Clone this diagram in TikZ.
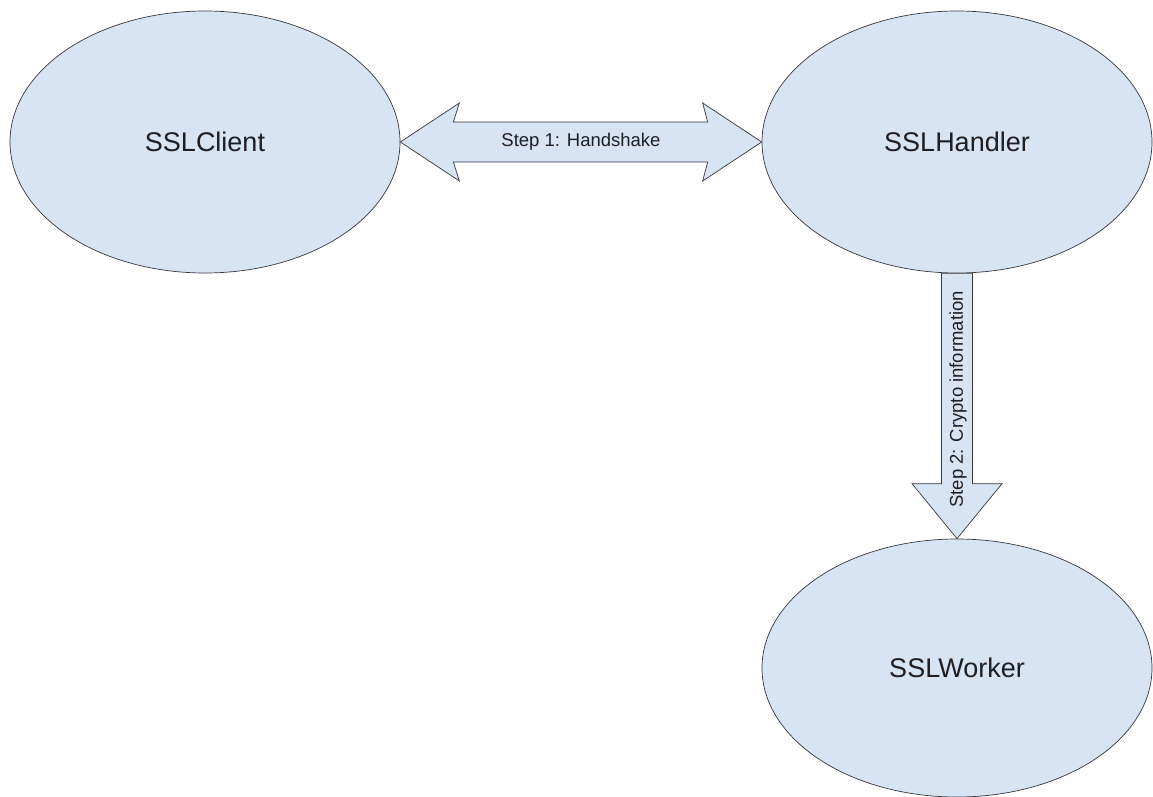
\documentclass[tikz,border=0pt]{standalone}
\usepackage{fontspec}
\setmainfont{Liberation Sans}
\usetikzlibrary{shapes.geometric,calc}

\definecolor{bubblefill}{RGB}{215,228,244}
\definecolor{edgegray}{RGB}{55,55,60}
\definecolor{textgray}{RGB}{30,30,35}

\tikzset{
  party/.style={ellipse, draw=edgegray, line width=0.7pt, fill=bubblefill,
    minimum width=390pt, minimum height=262pt, inner sep=0pt,
    font=\fontsize{27}{30}\selectfont, text=textgray},
  blockarrow/.style={draw=edgegray, line width=0.7pt, fill=bubblefill, line join=miter},
  arrowlabel/.style={font=\fontsize{18.5}{21}\selectfont, text=textgray, inner sep=0pt}
}

\begin{document}
\begin{tikzpicture}[x=1pt, y=-1pt]
  \useasboundingbox (0,0) rectangle (1153,797);

  % the three parties
  \node[party] (client)  at (205,142) {SSLClient};
  \node[party] (handler) at (957,142) {SSLHandler};
  \node[party, minimum height=258pt] (worker) at (957,668) {SSLWorker};

  % step 1: two-headed block arrow between client and handler
  \coordinate (L) at (client.east);
  \coordinate (R) at (handler.west);
  \draw[blockarrow] (L)
      -- ($(L)+(59,-39)$) -- ($(L)+(53,-20)$)
      -- ($(R)+(-54,-20)$) -- ($(R)+(-59,-39)$)
      -- (R)
      -- ($(R)+(-59,39)$) -- ($(R)+(-54,20)$)
      -- ($(L)+(53,20)$) -- ($(L)+(59,39)$)
      -- cycle;
  \node[arrowlabel] (hslabel) at ($(L)!0.5!(R)$) {Step 1: Handshake};

  % step 2: downward block arrow from handler to worker
  \coordinate (T) at (handler.south);
  \coordinate (B) at (worker.north);
  \draw[blockarrow] ($(T)+(-15.5,0)$)
      -- ($(B)+(-15.5,-55)$) -- ($(B)+(-45,-55)$)
      -- (B)
      -- ($(B)+(45,-55)$) -- ($(B)+(15.5,-55)$)
      -- ($(T)+(15.5,0)$) -- cycle;
  \node[arrowlabel, rotate=90] (cilabel) at ($(T)+(1,126)$) {Step 2: Crypto information};
\end{tikzpicture}
\end{document}
